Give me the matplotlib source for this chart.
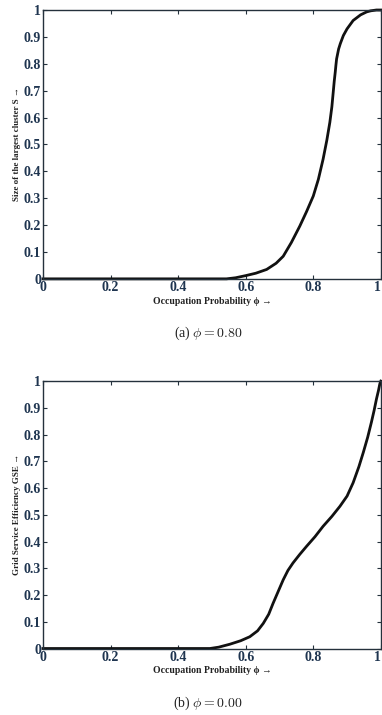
import matplotlib
matplotlib.use("Agg")
import matplotlib.pyplot as plt

# Data
phi_a = [0.0, 0.543, 0.57, 0.60, 0.63, 0.662, 0.69, 0.711, 0.735, 0.760, 0.78,
         0.800, 0.815, 0.829, 0.84, 0.849, 0.855, 0.859, 0.862, 0.865, 0.867,
         0.869, 0.875, 0.88, 0.889, 0.90, 0.918, 0.94, 0.958, 0.97, 0.987, 1.0]
s_a = [0.0, 0.0, 0.004, 0.012, 0.021, 0.035, 0.058, 0.084, 0.135, 0.196, 0.25,
       0.308, 0.37, 0.445, 0.515, 0.582, 0.64, 0.694, 0.735, 0.769, 0.795,
       0.818, 0.855, 0.875, 0.905, 0.93, 0.961, 0.982, 0.993, 0.997, 1.0, 1.0]

phi_b = [0.0, 0.494, 0.52, 0.553, 0.585, 0.612, 0.635, 0.652, 0.668, 0.681,
         0.696, 0.711, 0.725, 0.740, 0.760, 0.780, 0.805, 0.829, 0.855, 0.879,
         0.90, 0.918, 0.935, 0.948, 0.961, 0.972, 0.98, 0.987, 0.993, 0.997, 1.0]
gse_b = [0.0, 0.0, 0.005, 0.016, 0.029, 0.044, 0.066, 0.094, 0.128, 0.169,
         0.213, 0.257, 0.292, 0.320, 0.352, 0.382, 0.418, 0.457, 0.494, 0.532,
         0.57, 0.620, 0.68, 0.733, 0.79, 0.846, 0.89, 0.933, 0.965, 0.99, 1.0]

xticks = [0, 0.2, 0.4, 0.6, 0.8, 1]
xticklabels = ["0", "0.2", "0.4", "0.6", "0.8", "1"]
yticks = [0, 0.1, 0.2, 0.3, 0.4, 0.5, 0.6, 0.7, 0.8, 0.9, 1]
yticklabels = ["0", "0.1", "0.2", "0.3", "0.4", "0.5", "0.6", "0.7", "0.8", "0.9", "1"]

plt.rcParams['font.family'] = ['Liberation Serif', 'DejaVu Serif']
plt.rcParams['mathtext.fontset'] = 'cm'

label_col = '#1f3550'
spine_col = '#24313c'

fig = plt.figure(figsize=(3.82, 7.15), dpi=100)
ax1 = fig.add_axes([0.1126, 0.610, 0.8844, 0.376])
ax2 = fig.add_axes([0.1126, 0.093, 0.8844, 0.374])


def style(ax, ylabel):
    ax.set_xlim(0, 1)
    ax.set_ylim(0, 1)
    ax.set_xticks(xticks)
    ax.set_xticklabels(xticklabels, fontsize=10, fontweight='bold', color=label_col)
    ax.get_xticklabels()[-1].set_horizontalalignment('right')
    ax.set_yticks(yticks)
    ax.set_yticklabels(yticklabels, fontsize=10, fontweight='bold', color=label_col)
    ax.tick_params(direction='in', length=3, width=0.8, pad=1.5, top=True, right=True,
                   color=spine_col)
    for sp in ax.spines.values():
        sp.set_color(spine_col)
        sp.set_linewidth(1.0)
    ax.set_xlabel("Occupation Probability \u03d5 \u2192", fontsize=7, fontweight='bold',
                  color='#222222', labelpad=2)
    ax.set_ylabel(ylabel, fontsize=6.5, fontweight='bold', color='#222222', labelpad=2)


ax1.plot(phi_a, s_a, color='#111111', linewidth=2.0, clip_on=False,
         solid_joinstyle='round')
style(ax1, "Size of the largest cluster S \u2192")

ax2.plot(phi_b, gse_b, color='#111111', linewidth=2.0, clip_on=False,
         solid_joinstyle='round')
style(ax2, "Grid Service Efficiency GSE \u2192")

fig.text(0.545, 1 - 333 / 715, r"(a) $\phi = 0.80$", ha='center', va='center',
         fontsize=10, color='#222222')
fig.text(0.545, 1 - 703 / 715, r"(b) $\phi = 0.00$", ha='center', va='center',
         fontsize=10, color='#222222')

fig.savefig("out.png", dpi=100)
